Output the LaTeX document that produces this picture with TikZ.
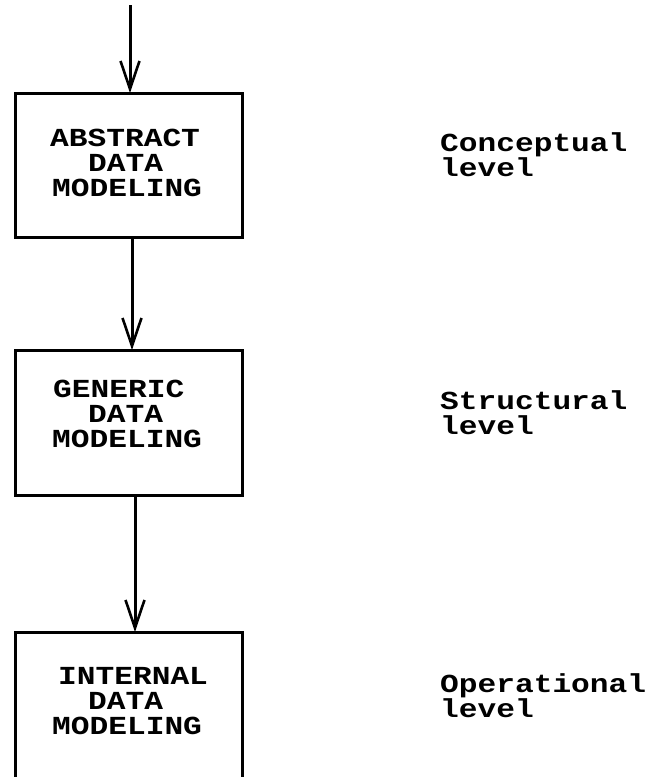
\documentclass[tikz,border=0pt]{standalone}
\usepackage{fontspec}
\newfontfamily\typewriter{Liberation Mono}[FakeStretch=1.2]
\usetikzlibrary{arrows.meta}
\begin{document}
\begin{tikzpicture}[x=1pt,y=-1pt,
  stagebox/.style={draw, line width=3pt, minimum width=227pt, inner sep=0pt, outer sep=0pt},
  openbox/.style={minimum width=227pt, inner sep=0pt, outer sep=0pt},
  boxline/.style={line width=3pt, line join=miter},
  flow/.style={line width=3pt, -{Straight Barb[length=28pt,width=19pt,line width=2.6pt]}},
  word/.style={font=\typewriter\bfseries\fontsize{26}{26}\selectfont, inner sep=0pt, anchor=base west}]
\useasboundingbox (0,0) rectangle (662,777);

% the three modelling stages
\node[stagebox, minimum height=144pt] (b1) at (128.5,165) {};
\node[stagebox, minimum height=145pt] (b2) at (128.5,422.5) {};
\node[openbox, minimum height=145pt] (b3) at (128.5,704.5) {};
\draw[boxline] (b3.south west) -- (b3.north west) -- (b3.north east) -- (b3.south east);

% box texts
\node[word] (t1a) at (50,146) {ABSTRACT};
\node[word] (t1b) at (88,171) {DATA};
\node[word] (t1c) at (52,196) {MODELING};

\node[word] (t2a) at (53,397) {GENERIC};
\node[word] (t2b) at (88,422) {DATA};
\node[word] (t2c) at (52,447) {MODELING};

\node[word] (t3a) at (58,684) {INTERNAL};
\node[word] (t3b) at (88,709) {DATA};
\node[word] (t3c) at (52,734) {MODELING};

% level labels
\node[word] (l1a) at (440,151) {Conceptual};
\node[word] (l1b) at (440,176) {level};
\node[word] (l2a) at (440,409) {Structural};
\node[word] (l2b) at (440,434) {level};
\node[word] (l3a) at (440,692) {Operational};
\node[word] (l3b) at (440,717) {level};

% flow arrows
\coordinate (in) at (130,5);
\draw[flow] (in) -- (in |- b1.north);
\draw[flow] ([xshift=3.5pt]b1.south) -- ([xshift=3.5pt]b2.north);
\draw[flow] ([xshift=6.5pt]b2.south) -- ([xshift=6.5pt]b3.north);
\end{tikzpicture}
\end{document}
